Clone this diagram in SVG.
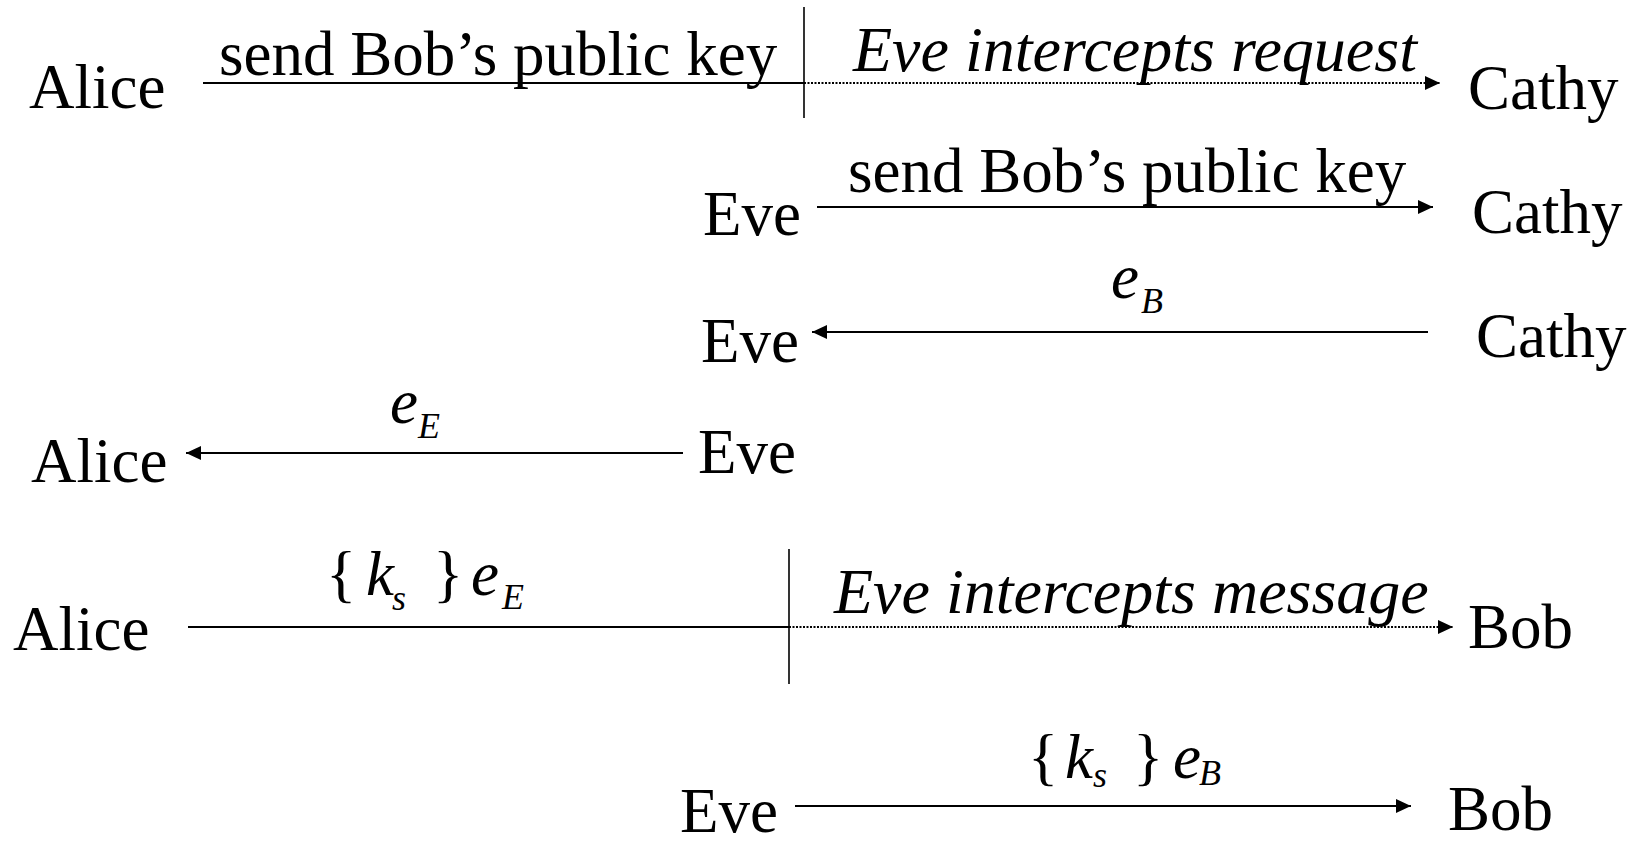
<svg xmlns="http://www.w3.org/2000/svg" width="1640" height="843" viewBox="0 0 1640 843">
<defs>
<style>
text{font-family:"Liberation Serif","Times New Roman",serif;fill:#000}
.n{font-size:63px}
.i{font-size:64px;font-style:italic}
.m{font-size:63px;font-style:italic}
.b{font-size:63px}
.sub{font-size:36px;font-style:italic}
.ln{stroke:#000;stroke-width:2.2;fill:none}
.dot{stroke:#000;stroke-width:2.2;fill:none;stroke-dasharray:2 1.5}
.bar{stroke:#000;stroke-width:1.6;fill:none}
</style>
<marker id="ah" markerUnits="userSpaceOnUse" markerWidth="16" markerHeight="15" refX="15" refY="7" orient="auto">
<path d="M0,0 L15,7 L0,14 Z" fill="#000"/>
</marker>
</defs>
<rect width="1640" height="843" fill="#fff"/>

<g id="row1-alice"><text class="n" x="29" y="108">Alice</text></g>
<g id="row1-cathy"><text class="n" x="1468" y="109">Cathy</text></g>
<g id="row2-eve"><text class="n" x="703" y="235">Eve</text></g>
<g id="row2-cathy"><text class="n" x="1472" y="233">Cathy</text></g>
<g id="row3-eve"><text class="n" x="701" y="362">Eve</text></g>
<g id="row3-cathy"><text class="n" x="1476" y="357">Cathy</text></g>
<g id="row4-alice"><text class="n" x="31" y="482">Alice</text></g>
<g id="row4-eve"><text class="n" x="698" y="473">Eve</text></g>
<g id="row5-alice"><text class="n" x="13" y="650">Alice</text></g>
<g id="row5-bob"><text class="n" x="1468" y="648">Bob</text></g>
<g id="row6-eve"><text class="n" x="680" y="832">Eve</text></g>
<g id="row6-bob"><text class="n" x="1448" y="830">Bob</text></g>

<g id="connectors">
<line class="ln" x1="203" y1="83" x2="804" y2="83"/>
<line class="bar" x1="804" y1="7" x2="804" y2="118"/>
<line class="dot" x1="804" y1="83" x2="1440" y2="83" marker-end="url(#ah)"/>
<line class="ln" x1="817" y1="207" x2="1433" y2="207" marker-end="url(#ah)"/>
<line class="ln" x1="1428" y1="332" x2="812" y2="332" marker-end="url(#ah)"/>
<line class="ln" x1="683" y1="453" x2="186" y2="453" marker-end="url(#ah)"/>
<line class="ln" x1="188" y1="627" x2="789" y2="627"/>
<line class="bar" x1="789" y1="549" x2="789" y2="684"/>
<line class="dot" x1="789" y1="627" x2="1453" y2="627" marker-end="url(#ah)"/>
<line class="ln" x1="795" y1="806" x2="1411" y2="806" marker-end="url(#ah)"/>
</g>

<g id="labels">
<text class="n" x="219" y="75">send Bob’s public key</text>
<text class="i" x="853" y="71">Eve intercepts request</text>
<text class="n" x="848" y="192">send Bob’s public key</text>
<text class="m" x="1111" y="298">e</text><text class="sub" x="1141" y="313">B</text>
<text class="m" x="390" y="423">e</text><text class="sub" x="418" y="438">E</text>
<text class="b" x="326" y="595">{</text>
<text class="m" x="366" y="595">k</text><text class="sub" x="392" y="610">s</text>
<text class="b" x="433" y="595">}</text>
<text class="m" x="471" y="595">e</text><text class="sub" x="502" y="609">E</text>
<text class="i" x="834" y="613">Eve intercepts message</text>
<text class="b" x="1028" y="778">{</text>
<text class="m" x="1065" y="778">k</text><text class="sub" x="1093" y="787">s</text>
<text class="b" x="1133" y="778">}</text>
<text class="m" x="1173" y="778">e</text><text class="sub" x="1199" y="785">B</text>
</g>
</svg>
